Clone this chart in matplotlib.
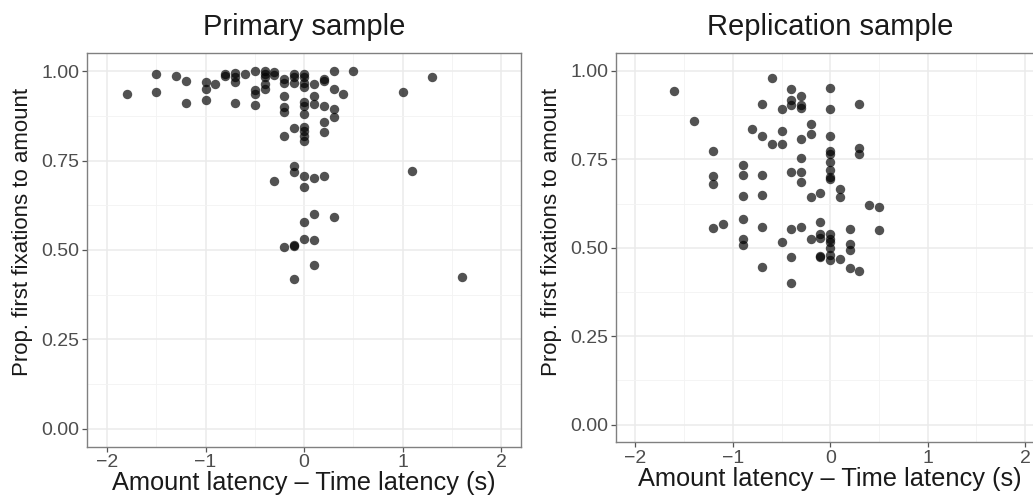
import matplotlib
matplotlib.use("Agg")
import matplotlib.pyplot as plt
from matplotlib.ticker import MultipleLocator

plt.rcParams['font.family'] = ['Liberation Sans', 'DejaVu Sans']

# --- data ---
primary_x = [-1.8, -1.5, -1.5, -1.3, -1.2, -1.2, -1.0, -1.0, -1.0, -0.9,
             -0.8, -0.8, -0.7, -0.7, -0.7, -0.7, -0.6, -0.5, -0.5, -0.5,
             -0.5, -0.4, -0.4, -0.4, -0.4, -0.4, -0.3, -0.3, -0.3, -0.2,
             -0.2, -0.2, -0.2, -0.2, -0.2, -0.2, -0.1, -0.1, -0.1, -0.1,
             -0.1, -0.1, -0.1, -0.1, -0.1, 0.0, 0.0, 0.0, 0.0, 0.0,
             0.0, 0.0, 0.0, 0.0, 0.0, 0.0, 0.0, 0.0, 0.0, 0.0,
             0.1, 0.1, 0.1, 0.1, 0.1, 0.1, 0.1, 0.2, 0.2, 0.2,
             0.2, 0.2, 0.2, 0.3, 0.3, 0.3, 0.3, 0.3, 0.4, 0.5,
             1.0, 1.1, 1.3, 1.6]
primary_y = [0.935, 0.993, 0.942, 0.986, 0.972, 0.912, 0.971, 0.949, 0.920, 0.965,
             0.993, 0.986, 0.994, 0.985, 0.969, 0.910, 0.993, 1.000, 0.946, 0.937,
             0.906, 1.000, 0.993, 0.983, 0.965, 0.950, 0.999, 0.990, 0.694, 0.977,
             0.967, 0.932, 0.900, 0.885, 0.820, 0.507, 0.993, 0.983, 0.967, 0.840,
             0.736, 0.717, 0.512, 0.515, 0.418, 0.993, 0.983, 0.967, 0.955, 0.913,
             0.904, 0.880, 0.843, 0.834, 0.820, 0.806, 0.708, 0.675, 0.578, 0.531,
             0.965, 0.932, 0.909, 0.700, 0.602, 0.528, 0.457, 0.979, 0.972, 0.904,
             0.857, 0.830, 0.708, 1.000, 0.950, 0.895, 0.871, 0.593, 0.937, 1.000,
             0.941, 0.720, 0.985, 0.425]

replication_x = [-1.6, -1.4, -1.2, -1.2, -1.2, -1.2, -1.1, -0.9, -0.9, -0.9,
                 -0.9, -0.9, -0.9, -0.8, -0.7, -0.7, -0.7, -0.7, -0.7, -0.7,
                 -0.6, -0.6, -0.5, -0.5, -0.5, -0.5, -0.4, -0.4, -0.4, -0.4,
                 -0.4, -0.4, -0.4, -0.3, -0.3, -0.3, -0.3, -0.3, -0.3, -0.3,
                 -0.3, -0.2, -0.2, -0.2, -0.2, -0.1, -0.1, -0.1, -0.1, -0.1,
                 -0.1, 0.0, 0.0, 0.0, 0.0, 0.0, 0.0, 0.0, 0.0, 0.0,
                 0.0, 0.0, 0.0, 0.0, 0.0, 0.0, 0.1, 0.1, 0.1, 0.2,
                 0.2, 0.2, 0.2, 0.3, 0.3, 0.3, 0.3, 0.4, 0.5, 0.5]
replication_y = [0.943, 0.859, 0.774, 0.702, 0.679, 0.557, 0.566, 0.733, 0.706, 0.647,
                 0.582, 0.525, 0.508, 0.836, 0.908, 0.815, 0.706, 0.649, 0.560, 0.447,
                 0.979, 0.794, 0.892, 0.830, 0.794, 0.517, 0.950, 0.917, 0.905, 0.714,
                 0.552, 0.474, 0.400, 0.929, 0.903, 0.896, 0.808, 0.754, 0.714, 0.685,
                 0.558, 0.849, 0.821, 0.644, 0.525, 0.655, 0.573, 0.540, 0.528, 0.478,
                 0.474, 0.951, 0.892, 0.815, 0.774, 0.766, 0.744, 0.721, 0.700, 0.694,
                 0.540, 0.525, 0.516, 0.500, 0.481, 0.466, 0.667, 0.643, 0.467, 0.552,
                 0.511, 0.495, 0.443, 0.908, 0.783, 0.766, 0.434, 0.622, 0.616, 0.549]

panels = [("Primary sample", primary_x, primary_y, 0.546),
          ("Replication sample", replication_x, replication_y, 0.542)]

fig = plt.figure(figsize=(10.33, 5.0), dpi=100)
ax_left = fig.add_axes([0.0845, 0.1066, 0.4196, 0.7868])
ax_right = fig.add_axes([0.5963, 0.1154, 0.4148, 0.7780])

for ax, (title, xs, ys, ylab_pos) in zip([ax_left, ax_right], panels):
    ax.scatter(xs, ys, s=46, color='black', alpha=0.68, linewidths=0, zorder=3)
    ax.set_xlim(-2.2, 2.2)
    ax.set_ylim(-0.05, 1.05)
    ax.xaxis.set_minor_locator(MultipleLocator(0.5))
    ax.yaxis.set_minor_locator(MultipleLocator(0.125))
    ax.set_yticks([0, 0.25, 0.5, 0.75, 1.0])
    ax.set_yticklabels(['0.00', '0.25', '0.50', '0.75', '1.00'])
    ax.set_xticks([-2, -1, 0, 1, 2])
    ax.set_xticklabels(['\u22122', '\u22121', '0', '1', '2'])
    ax.grid(which='major', color='#EBEBEB', linewidth=1.1, zorder=0)
    ax.grid(which='minor', color='#F3F3F3', linewidth=0.6, zorder=0)
    ax.set_axisbelow(True)
    for sp in ax.spines.values():
        sp.set_color('#808080')
        sp.set_linewidth(1.0)
    ax.tick_params(which='major', length=3.5, width=0.9, color='#555555',
                   labelcolor='#4D4D4D', labelsize=14, pad=2)
    ax.tick_params(which='minor', length=0)
    ax.set_title(title, fontsize=21, color='#1A1A1A', pad=13)
    ax.set_xlabel('Amount latency \u2013 Time latency (s)', fontsize=18.3,
                  color='#1A1A1A', labelpad=0)
    ax.set_ylabel('Prop. first fixations to amount', fontsize=16,
                  color='#1A1A1A')
    # ylabel anchor is the right edge of the rotated text
    ax.yaxis.set_label_coords(-0.125, ylab_pos)

fig.savefig('out.png', dpi=100)
